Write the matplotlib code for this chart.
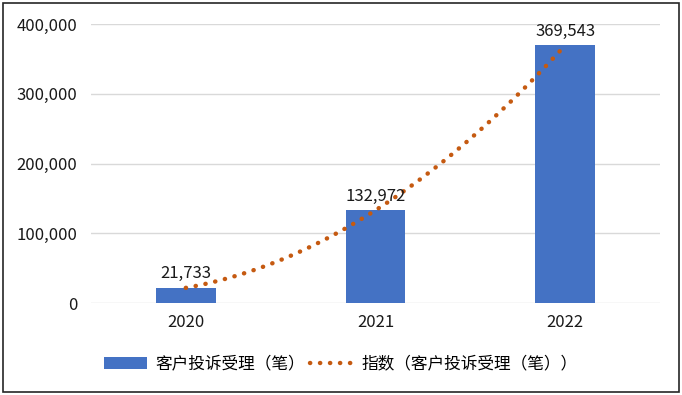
import numpy as np
import matplotlib.pyplot as plt
from matplotlib.lines import Line2D
from matplotlib.patches import Patch, Rectangle

plt.rcParams["font.family"] = ["Noto Sans CJK SC", "DejaVu Sans"]

years = ["2020", "2021", "2022"]
complaints = [21733, 132972, 369543]
series_name = "客户投诉受理（笔）"
trend_name = "指数（客户投诉受理（笔））"
y_ticks = [0, 100000, 200000, 300000, 400000]

BAR_COLOR = "#4472C4"
TREND_COLOR = "#C55A11"
DOTS = (0, (0.05, 2.2))

fig = plt.figure(figsize=(6.82, 3.95), dpi=100)
ax = fig.add_axes([0.1334, 0.2329, 0.8343, 0.7061])

x = np.arange(len(years))
ax.bar(x, complaints, width=0.316, color=BAR_COLOR, zorder=2)

# trend curve through the series
coef = np.polyfit(x, complaints, 2)
xs = np.linspace(x[0], x[-1], 200)
ax.plot(xs, np.polyval(coef, xs), color=TREND_COLOR, linewidth=3.2,
        linestyle=DOTS, dash_capstyle="round", zorder=3)

for xi, v in zip(x, complaints):
    ax.text(xi, v + 8000, f"{v:,}", ha="center", va="bottom", fontsize=12,
            color="#1a1a1a", clip_on=False)

ax.set_xlim(-0.5, 2.5)
ax.set_ylim(0, 400000)
ax.set_xticks(x)
ax.set_xticklabels(years)
ax.set_yticks(y_ticks)
ax.set_yticklabels([f"{t:,}" for t in y_ticks])
ax.tick_params(axis="both", length=0, labelsize=12, labelcolor="#1a1a1a")
ax.tick_params(axis="y", pad=10)
ax.tick_params(axis="x", pad=8)
ax.grid(axis="y", color="#d9d9d9", linewidth=1, zorder=0)
ax.set_axisbelow(True)
for s in ax.spines.values():
    s.set_visible(False)

handles = [
    Patch(facecolor=BAR_COLOR, edgecolor="none"),
    Line2D([0], [0], color=TREND_COLOR, linewidth=3.2,
           linestyle=DOTS, dash_capstyle="round"),
]
fig.legend(handles, [series_name, trend_name], loc="center",
           bbox_to_anchor=(0.5, 0.078), ncol=2, frameon=False, fontsize=12,
           handlelength=2.6, handleheight=0.7, columnspacing=0.3,
           handletextpad=0.5)

fig.patches.append(Rectangle((0.005, 0.007), 0.99, 0.986, transform=fig.transFigure,
                             fill=False, edgecolor="#262626", linewidth=1.2))

fig.savefig("out.png", dpi=100)
